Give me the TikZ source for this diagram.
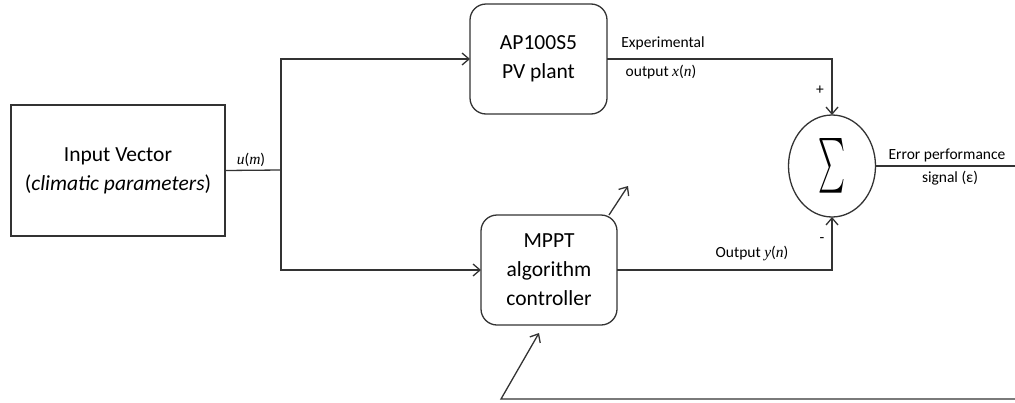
\documentclass[tikz,border=0pt]{standalone}
\usepackage{fontspec}
\setmainfont{Carlito}
\newfontfamily\serifvar{Liberation Serif}
\newcommand{\mv}[1]{{\serifvar\itshape #1}}
\usetikzlibrary{arrows.meta,shapes.geometric}
\definecolor{ln}{HTML}{333333}
\begin{document}
\begin{tikzpicture}[x=1pt,y=-1pt,
  box/.style={draw=ln, line width=1.3pt, inner sep=0pt, outer sep=0pt, align=center, text=black, font=\fontsize{21.5}{29}\selectfont},
  rbox/.style={box, rounded corners=16pt},
  lbl/.style={font=\fontsize{15.5}{17}\selectfont, inner sep=0pt, text=black},
  conn/.style={draw=ln, line width=1.3pt},
  arr/.style={conn, -{Straight Barb[length=7pt,width=12pt,line width=1.3pt]}}]
\useasboundingbox (0,0) rectangle (1015,402);
% blocks
\node[box, minimum width=214pt, minimum height=131pt] (input) at (118,170.5)
  {Input Vector\\(\textit{climatic parameters})};
\node[rbox, minimum width=137pt, minimum height=110pt] (ap) at (538.5,59)
  {AP100S5\\PV plant};
\node[rbox, minimum width=136pt, minimum height=110pt] (mppt) at (549,270)
  {MPPT\\algorithm\\controller};
\node[ellipse, draw=ln, line width=1.3pt, minimum width=87pt, minimum height=102pt, inner sep=0pt, outer sep=0pt] (sig) at (832,166)
  {\resizebox{27pt}{41pt}{$\sum$}};
% coordinates
\coordinate (split) at (281,170);
\coordinate (outend) at (1015,166);
\coordinate (cornerstart) at (609,215);
\coordinate (cornertip) at (628,186);
\coordinate (fbstart) at (1015,399);
\coordinate (fbcorner) at (501,399);
\coordinate (fbtip) at (539,333);
% connectors
\draw[conn] (input.east) -- (split);
\draw[arr] (split) |- (ap.west);
\draw[arr] (split) |- (mppt.west);
\draw[arr] (ap.east) -| (sig.north);
\draw[arr] (mppt.east) -| (sig.south);
\draw[conn] (sig.east) -- (outend);
\draw[arr] (cornerstart) -- (cornertip);
\draw[arr] (fbstart) -- (fbcorner) -- (fbtip);
% labels
\node[lbl] (um) at (251,160) {\mv{u}(\mv{m})};
\node[lbl] (exp1) at (663,43) {Experimental};
\node[lbl] (exp2) at (661,72) {output \mv{x}(\mv{n})};
\node[lbl] (plus) at (820,90) {+};
\node[lbl] (minus) at (822,240) {-};
\node[lbl] (outy) at (752,253) {Output \mv{y}(\mv{n})};
\node[lbl] (err1) at (947,155) {Error performance};
\node[lbl] (err2) at (950,178) {signal (ε)};
\end{tikzpicture}
\end{document}
